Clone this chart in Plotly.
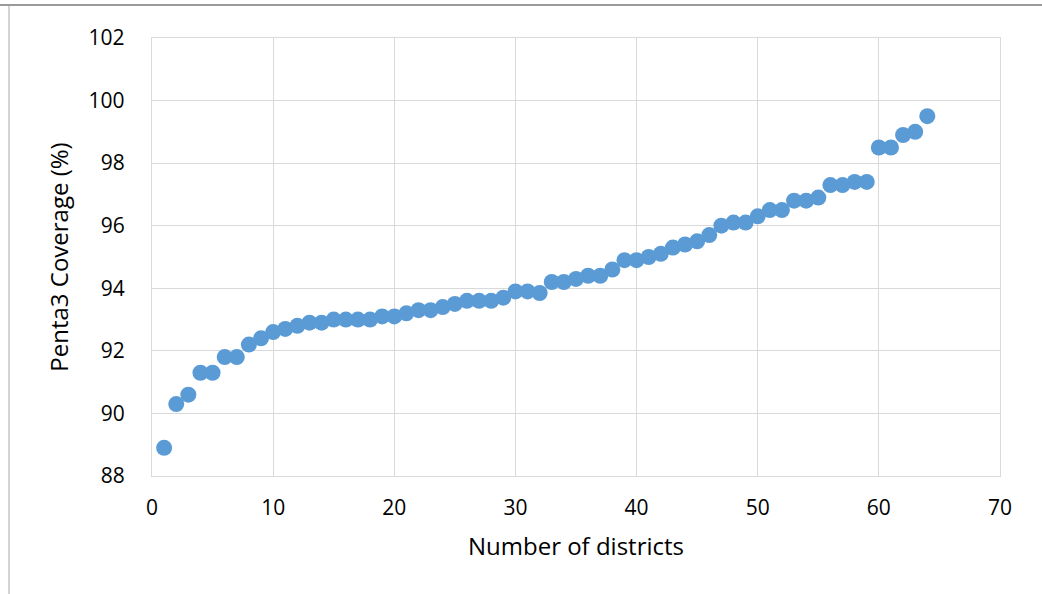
import plotly.graph_objects as go

districts = list(range(1, 65))
coverage = [
    88.9, 90.3, 90.6, 91.3, 91.3, 91.8, 91.8, 92.2, 92.4, 92.6,
    92.7, 92.8, 92.9, 92.9, 93.0, 93.0, 93.0, 93.0, 93.1, 93.1,
    93.2, 93.3, 93.3, 93.4, 93.5, 93.6, 93.6, 93.6, 93.7, 93.9,
    93.9, 93.85, 94.2, 94.2, 94.3, 94.4, 94.4, 94.6, 94.9, 94.9,
    95.0, 95.1, 95.3, 95.4, 95.5, 95.7, 96.0, 96.1, 96.1, 96.3,
    96.5, 96.5, 96.8, 96.8, 96.9, 97.3, 97.3, 97.4, 97.4, 98.5,
    98.5, 98.9, 99.0, 99.5,
]
x_ticks = [0, 10, 20, 30, 40, 50, 60, 70]
y_ticks = [88, 90, 92, 94, 96, 98, 100, 102]

W, H = 1042, 594
L, R, T, B = 152, 42, 38, 118

fig = go.Figure(go.Scatter(
    x=districts, y=coverage, mode="markers",
    marker=dict(size=16, color="#5B9BD5", line=dict(width=0)),
    hoverinfo="x+y",
))

tick_font = dict(family="Open Sans", size=21, color="#000000")
title_font = dict(family="Open Sans", size=24, color="#000000")
grid = "#D9D9D9"

fig.update_layout(
    width=W, height=H,
    margin=dict(l=L, r=R, t=T, b=B, autoexpand=False),
    paper_bgcolor="white", plot_bgcolor="white",
    showlegend=False,
    font=tick_font,
)
fig.update_xaxes(
    range=[0, 70], tickvals=x_ticks, ticktext=[str(v) for v in x_ticks],
    showgrid=True, gridcolor=grid, gridwidth=1.3,
    showline=True, linecolor=grid, linewidth=1.3, mirror=True,
    zeroline=False, ticks="", ticklabelstandoff=13,
    tickfont=tick_font,
    title=dict(text="Number of districts", font=title_font, standoff=17),
    automargin=False,
)
fig.update_yaxes(
    range=[88, 102], tickvals=y_ticks, ticktext=[str(v) for v in y_ticks],
    showgrid=True, gridcolor=grid, gridwidth=1.3,
    showline=True, linecolor=grid, linewidth=1.3, mirror=True,
    zeroline=False, ticks="", ticklabelstandoff=22,
    tickfont=tick_font,
    title=dict(text="Penta3 Coverage (%)", font=title_font, standoff=13),
    automargin=False,
)

# outer frame lines (top dark gray, left light gray)
pw = W - L - R
ph = H - T - B
def px_to_paper_x(px):
    return (px - L) / pw
def py_to_paper_y(py):
    return 1 - (py - T) / ph

fig.add_shape(type="line", xref="paper", yref="paper",
              x0=px_to_paper_x(0), x1=px_to_paper_x(W),
              y0=py_to_paper_y(5), y1=py_to_paper_y(5),
              line=dict(color="#9A9A9A", width=2), layer="above")
fig.add_shape(type="line", xref="paper", yref="paper",
              x0=px_to_paper_x(9), x1=px_to_paper_x(9),
              y0=py_to_paper_y(6), y1=py_to_paper_y(H),
              line=dict(color="#D4D4D4", width=2), layer="above")

fig.write_html(
    "out.html",
    config={"displayModeBar": False},
    post_script="document.body.style.margin='0';document.body.style.overflow='hidden';",
)
